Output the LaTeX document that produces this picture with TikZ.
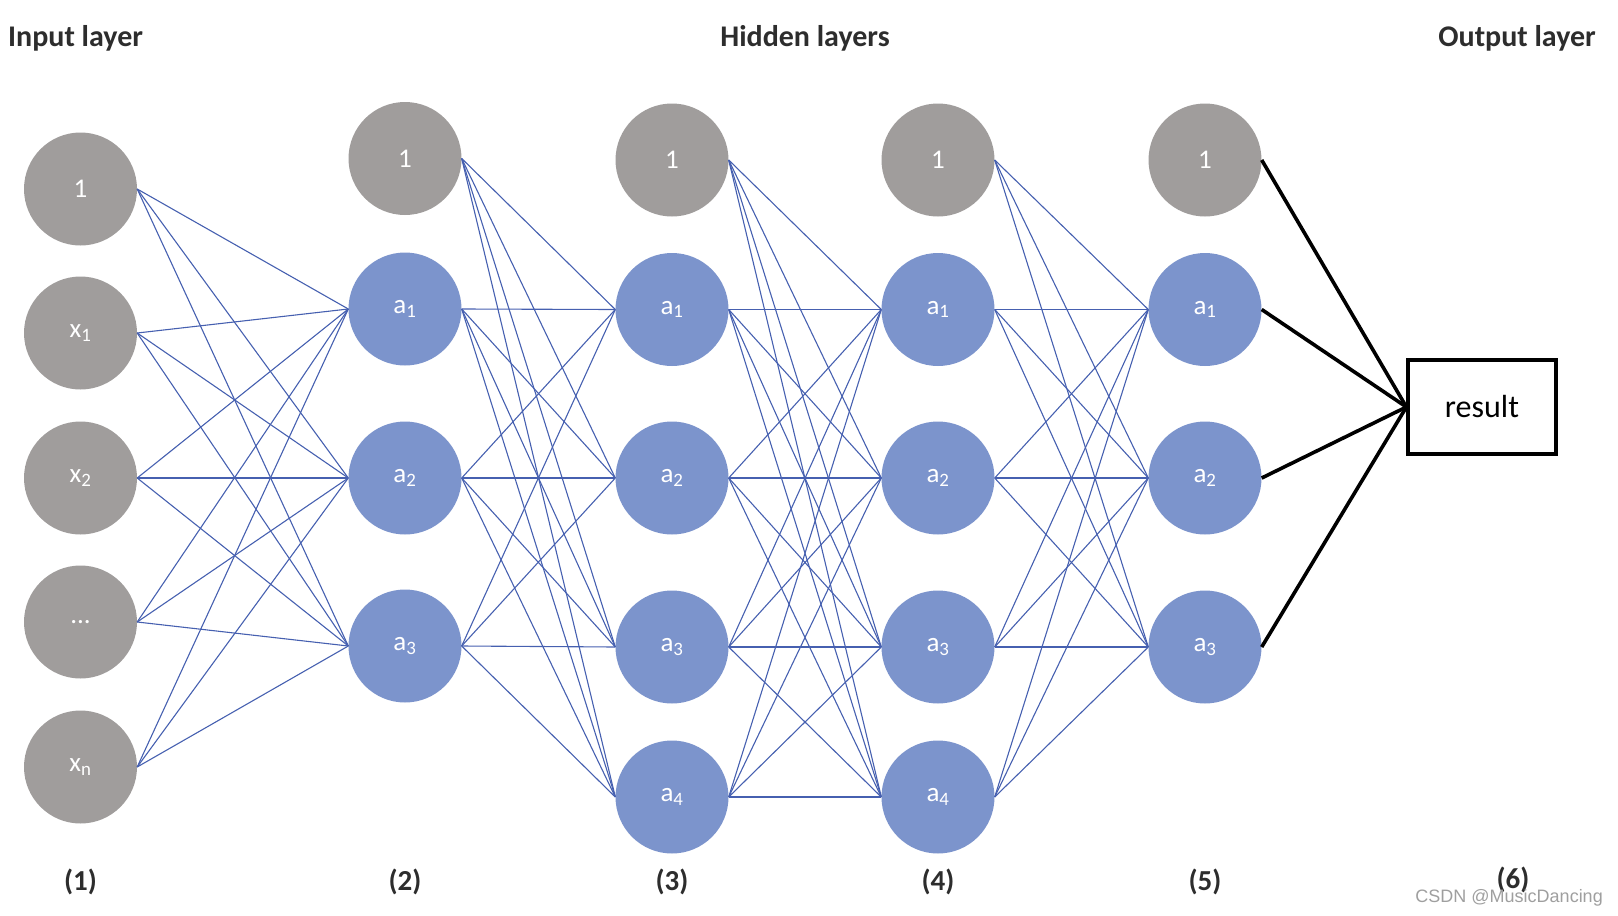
\documentclass[tikz,border=0pt]{standalone}
\usepackage{fontspec}
\setmainfont{Carlito}
\newfontfamily\wmfont{Liberation Sans}
\definecolor{graynode}{RGB}{160,157,156}
\definecolor{bluenode}{RGB}{124,148,204}
\definecolor{blueline}{RGB}{70,96,176}
\definecolor{labtext}{RGB}{45,45,45}
\tikzset{
  neuron/.style={circle, minimum size=113pt, inner sep=0pt, text=white, font=\fontsize{27}{30}\selectfont},
  bias/.style={neuron, fill=graynode},
  unit/.style={neuron, fill=bluenode},
  conn/.style={draw=blueline, line width=1.1pt},
  outconn/.style={draw=black, line width=3.6pt},
  head/.style={text=labtext, font=\bfseries\fontsize{30}{36}\selectfont, inner sep=0pt},
  idx/.style={text=labtext, font=\bfseries\fontsize{29}{34}\selectfont, inner sep=0pt},
  resbox/.style={draw=black, line width=3.2pt, minimum width=148pt, minimum height=94pt, inner sep=0pt, font=\fontsize{32}{36}\selectfont},
}
\begin{document}
\begin{tikzpicture}[x=1pt,y=-1pt]
\useasboundingbox (0,0) rectangle (1618,916);
% layer 1
\node[bias] (L1b) at (80.5,189) {1};
\node[bias] (L1x1) at (80.5,333) {x\textsubscript{1}};
\node[bias] (L1x2) at (80.5,478) {x\textsubscript{2}};
\node[bias] (L1d) at (80.5,622) {...};
\node[bias] (L1xn) at (80.5,767) {x\textsubscript{n}};
% layer 2
\node[bias] (L2b) at (405,158.5) {1};
\node[unit] (L2a1) at (405,309) {a\textsubscript{1}};
\node[unit] (L2a2) at (405,478) {a\textsubscript{2}};
\node[unit] (L2a3) at (405,646) {a\textsubscript{3}};
% layer 3
\node[bias] (L3b) at (672,160) {1};
\node[unit] (L3a1) at (672,309.5) {a\textsubscript{1}};
\node[unit] (L3a2) at (672,478) {a\textsubscript{2}};
\node[unit] (L3a3) at (672,647) {a\textsubscript{3}};
\node[unit] (L3a4) at (672,797) {a\textsubscript{4}};
% layer 4
\node[bias] (L4b) at (938,160) {1};
\node[unit] (L4a1) at (938,309.5) {a\textsubscript{1}};
\node[unit] (L4a2) at (938,478) {a\textsubscript{2}};
\node[unit] (L4a3) at (938,647) {a\textsubscript{3}};
\node[unit] (L4a4) at (938,797) {a\textsubscript{4}};
% layer 5
\node[bias] (L5b) at (1205,160) {1};
\node[unit] (L5a1) at (1205,309.5) {a\textsubscript{1}};
\node[unit] (L5a2) at (1205,478) {a\textsubscript{2}};
\node[unit] (L5a3) at (1205,647) {a\textsubscript{3}};
% output
\node[resbox] (res) at (1482,407) {result};
% connections
\foreach \s in {L1b,L1x1,L1x2,L1d,L1xn}
  \foreach \t in {L2a1,L2a2,L2a3}
    \draw[conn] (\s.east) -- (\t.west);
\foreach \s in {L2b,L2a1,L2a2,L2a3}
  \foreach \t in {L3a1,L3a2,L3a3,L3a4}
    \draw[conn] (\s.east) -- (\t.west);
\foreach \s in {L3b,L3a1,L3a2,L3a3,L3a4}
  \foreach \t in {L4a1,L4a2,L4a3,L4a4}
    \draw[conn] (\s.east) -- (\t.west);
\foreach \s in {L4b,L4a1,L4a2,L4a3,L4a4}
  \foreach \t in {L5a1,L5a2,L5a3}
    \draw[conn] (\s.east) -- (\t.west);
\foreach \s in {L5b,L5a1,L5a2,L5a3}
  \draw[outconn] (\s.east) -- (res.west);
% headers
\node[head, anchor=west] (hin) at (8,38) {Input layer};
\node[head] (hhid) at (805,38) {Hidden layers};
\node[head, anchor=east] (hout) at (1596,38) {Output layer};
% indices
\node[idx] (i1) at (80.5,882) {(1)};
\node[idx] (i2) at (405,882) {(2)};
\node[idx] (i3) at (672,882) {(3)};
\node[idx] (i4) at (938,882) {(4)};
\node[idx] (i5) at (1205,882) {(5)};
\node[idx] (i6) at (1513,880) {(6)};
% watermark
\node[anchor=east, inner sep=0pt, text=gray!75, font=\wmfont\fontsize{18}{20}\selectfont] (wm) at (1603,898) {CSDN @MusicDancing};
\end{tikzpicture}
\end{document}
